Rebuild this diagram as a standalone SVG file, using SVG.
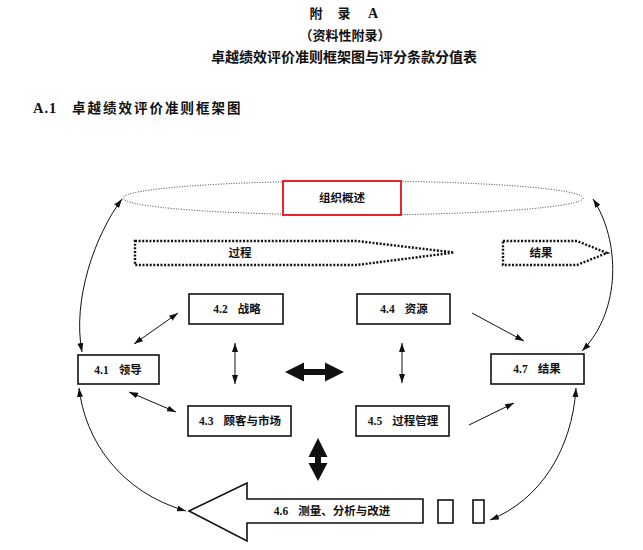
<svg xmlns="http://www.w3.org/2000/svg" width="643" height="550" viewBox="0 0 643 550">
<defs>
<style>
.t{font-family:"Noto Sans CJK SC","Liberation Sans",sans-serif;font-weight:bold;fill:#111;}
.lbl{font-family:"Liberation Serif","Noto Sans CJK SC",serif;font-weight:bold;font-size:11.5px;fill:#111;text-anchor:middle;dominant-baseline:central;}
.box{fill:#fff;stroke:#111;stroke-width:1.6;}
.ln{fill:none;stroke:#111;stroke-width:1;}
.dot{fill:none;stroke:#111;stroke-width:2.4;stroke-dasharray:2 1.6;}
.solid{fill:#111;stroke:none;}
</style>
<marker id="ah" viewBox="0 0 9 6" refX="9" refY="3" markerWidth="9" markerHeight="6" markerUnits="userSpaceOnUse" orient="auto-start-reverse">
<path d="M0,0 L9,3 L0,6 z" fill="#111"/>
</marker>
</defs>
<rect width="643" height="550" fill="#fff"/>

<g id="titles">
<text class="t" x="316" y="18" font-size="13" text-anchor="middle">附</text>
<text class="t" x="344" y="18" font-size="13" text-anchor="middle">录</text>
<text x="373" y="18" font-size="14" text-anchor="middle" font-family="Liberation Serif, serif" font-weight="bold" fill="#111">A</text>
<text class="t" x="345" y="40" font-size="13" text-anchor="middle">（资料性附录）</text>
<text class="t" x="344" y="62" font-size="14" text-anchor="middle">卓越绩效评价准则框架图与评分条款分值表</text>
<text x="33" y="113" font-size="14.5" font-family="Liberation Serif, serif" font-weight="bold" fill="#111" letter-spacing="1">A.1</text>
<text class="t" x="72" y="113" font-size="13.5" letter-spacing="2">卓越绩效评价准则框架图</text>
</g>

<g id="org-ellipse">
<ellipse cx="353" cy="198" rx="230" ry="17" fill="none" stroke="#333" stroke-width="1" stroke-dasharray="1 1.6"/>
</g>
<g id="node-org">
<rect x="283" y="181" width="118" height="34" fill="#fff" stroke="#e8262a" stroke-width="2"/>
<text class="lbl" x="342" y="198">组织概述</text>
</g>

<g id="node-process-arrow">
<path class="dot" d="M135,241 L357,241 L454,252.5 L357,265 L135,265 Z"/>
<text class="lbl" x="240" y="253">过程</text>
</g>
<g id="node-result-arrow">
<path class="dot" d="M503,241 L577,241 L607,253 L577,265 L503,265 Z"/>
<text class="lbl" x="541" y="253">结果</text>
</g>

<g id="node-4-2">
<rect class="box" x="189" y="294" width="94" height="30"/>
<text class="lbl" x="237" y="309">4.2<tspan dx="10">战略</tspan></text>
</g>
<g id="node-4-4">
<rect class="box" x="357" y="294" width="93" height="30"/>
<text class="lbl" x="404" y="309">4.4<tspan dx="10">资源</tspan></text>
</g>
<g id="node-4-1">
<rect class="box" x="78" y="355" width="81" height="29"/>
<text class="lbl" x="118" y="370">4.1<tspan dx="10">领导</tspan></text>
</g>
<g id="node-4-7">
<rect class="box" x="491" y="354" width="93" height="30"/>
<text class="lbl" x="537" y="369">4.7<tspan dx="10">结果</tspan></text>
</g>
<g id="node-4-3">
<rect class="box" x="188" y="406" width="103" height="30"/>
<text class="lbl" x="240" y="421">4.3<tspan dx="10">顾客与市场</tspan></text>
</g>
<g id="node-4-5">
<rect class="box" x="356" y="406" width="93" height="30"/>
<text class="lbl" x="403" y="421">4.5<tspan dx="10">过程管理</tspan></text>
</g>
<g id="node-4-6">
<path class="box" d="M189,511 L247,483 L247,499 L423,499 L423,523 L247,523 L247,541 Z"/>
<text class="lbl" x="332" y="511">4.6<tspan dx="10">测量、分析与改进</tspan></text>
<rect class="box" x="438" y="500" width="15" height="23"/>
<rect class="box" x="473" y="500" width="11" height="23"/>
</g>

<g id="connectors">
<path class="ln" d="M122,199 C95,235 72,300 82,352" marker-start="url(#ah)" marker-end="url(#ah)"/>
<path class="ln" d="M593,199 C620,240 622,310 582,351" marker-start="url(#ah)" marker-end="url(#ah)"/>
<path class="ln" d="M79,388 C85,440 120,492 186,511" marker-start="url(#ah)" marker-end="url(#ah)"/>
<path class="ln" d="M576,388 C572,450 540,500 490,520" marker-start="url(#ah)" marker-end="url(#ah)"/>
<line class="ln" x1="178" y1="313" x2="134" y2="344" marker-start="url(#ah)" marker-end="url(#ah)"/>
<line class="ln" x1="129" y1="392" x2="176" y2="412" marker-start="url(#ah)" marker-end="url(#ah)"/>
<line class="ln" x1="472" y1="313" x2="524" y2="341" marker-end="url(#ah)"/>
<line class="ln" x1="469" y1="425" x2="514" y2="403" marker-end="url(#ah)"/>
<line class="ln" x1="235" y1="343" x2="235" y2="384" marker-start="url(#ah)" marker-end="url(#ah)"/>
<line class="ln" x1="402" y1="343" x2="402" y2="383" marker-start="url(#ah)" marker-end="url(#ah)"/>
<polygon class="solid" points="285,372 304,362.5 304,369 325,369 325,362.5 344,372 325,381.5 325,375 304,375 304,381.5"/>
<polygon class="solid" points="318,438 327.5,457 321,457 321,463 327.5,463 318,481 308.5,463 315,463 315,457 308.5,457"/>
</g>
</svg>
